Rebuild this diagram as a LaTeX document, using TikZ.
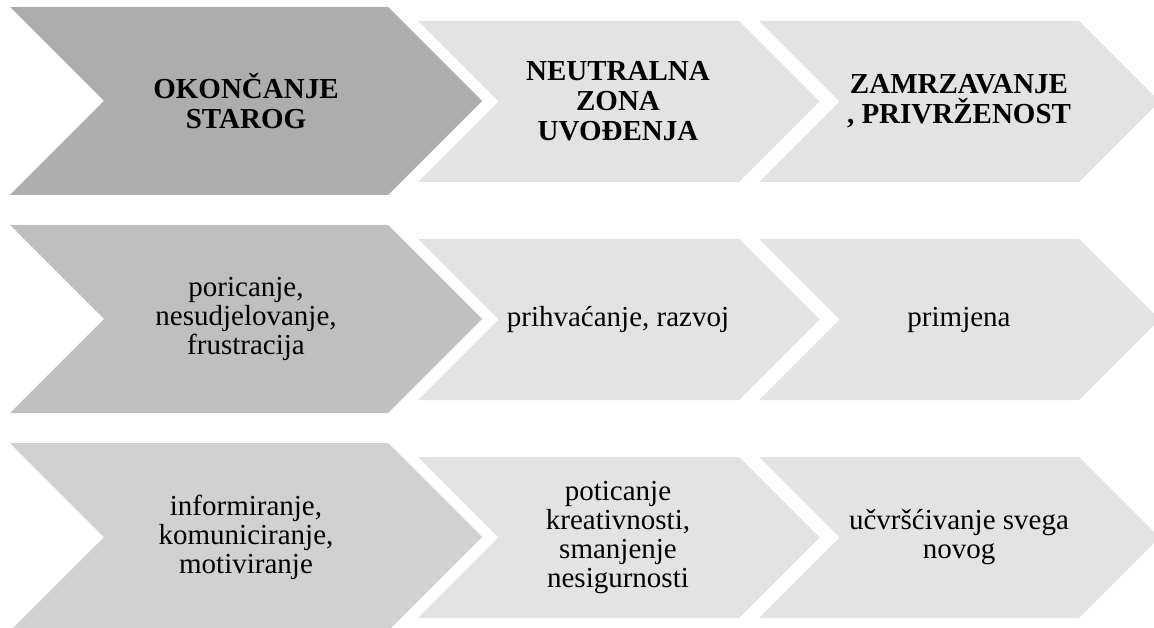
\documentclass[tikz,border=0pt]{standalone}
\usepackage{fontspec}
\setmainfont{Liberation Serif}
\definecolor{GrayDark}{RGB}{173,173,173}
\definecolor{GrayMid}{RGB}{191,191,191}
\definecolor{GrayLight}{RGB}{209,209,209}
\definecolor{GrayPale}{RGB}{227,227,227}
% left, top, top edge length, height, colour
\newcommand{\chevshape}[5]{%
  \fill[#5] (#1,#2) -- ++(#3,0) -- ++(#4/2,#4/2) -- ++(-#4/2,#4/2)
    -- ++(-#3,0) -- ++(#4/2,-#4/2) -- cycle;}

\begin{document}
\begin{tikzpicture}[
    x=1pt, y=-1pt,
    headtext/.style={align=center, font=\fontsize{29}{30}\selectfont\bfseries},
    bodytext/.style={align=center, font=\fontsize{29}{29}\selectfont}
  ]
    \useasboundingbox (0,0) rectangle (1154,628);
    \clip (0,0) rectangle (1154,628);
    % three rows of chevrons
    \foreach \rowtop/\firstcol in {7/GrayDark, 225/GrayMid, 443/GrayLight} {
      \chevshape{10}{\rowtop}{378}{188}{\firstcol}
      \chevshape{418}{\rowtop+14}{321}{161}{GrayPale}
      \chevshape{759}{\rowtop+14}{320}{161}{GrayPale}
    }
    % phases
    \node[headtext] (ending) at (246,101) {OKONČANJE\\STAROG};
    \node[headtext] (neutral) at (618,101.5) {NEUTRALNA\\ZONA\\UVOĐENJA};
    \node[headtext] (commit) at (959,101.5) {ZAMRZAVANJE\\, PRIVRŽENOST};
    % reactions
    \node[bodytext] (denial) at (246,319) {poricanje,\\nesudjelovanje,\\frustracija};
    \node[bodytext] (accept) at (618,319.5) {prihvaćanje, razvoj};
    \node[bodytext] (apply) at (959,319.5) {primjena};
    % actions
    \node[bodytext] (inform) at (246,537) {informiranje,\\komuniciranje,\\motiviranje};
    \node[bodytext] (encourage) at (618,537.5) {poticanje\\kreativnosti,\\smanjenje\\nesigurnosti};
    \node[bodytext] (settle) at (959,537.5) {učvršćivanje svega\\novog};
  \end{tikzpicture}
\end{document}
